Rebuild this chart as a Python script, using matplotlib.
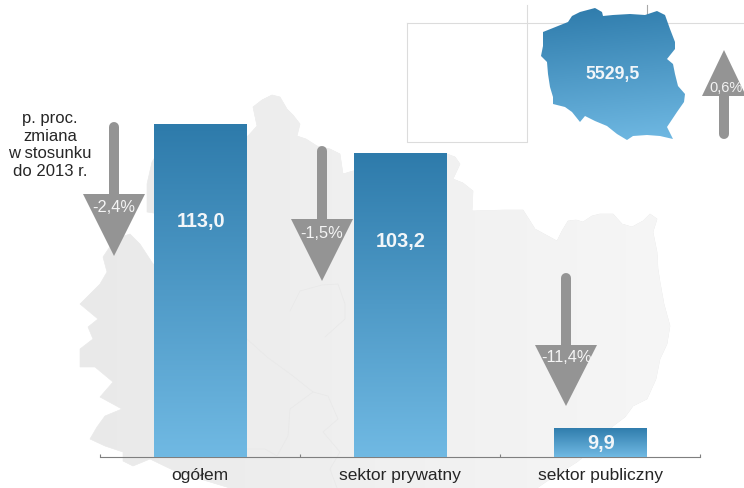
#!/usr/bin/env python
"""
Pracujacy wg sektorow: slupki z gradientem na tle mapy regionu, wstawka z mapa Polski
"""

# Imports ==================================
import matplotlib
matplotlib.use('Agg')
import matplotlib.pyplot as plt
import numpy as np
from matplotlib.colors import LinearSegmentedColormap
from matplotlib.patches import Polygon

plt.rcParams['font.family'] = ['Liberation Sans', 'DejaVu Sans']

# Data =====================================
categories = ['ogółem', 'sektor prywatny', 'sektor publiczny']
values = [113.0, 103.2, 9.9]
value_labels = ['113,0', '103,2', '9,9']
change_labels = ['-2,4%', '-1,5%', '-11,4%']
poland_value = '5529,5'
poland_change = '0,6%'
note = 'p. proc.\nzmiana\nw stosunku\ndo 2013 r.'

# Image Variables ==========================
W, H = 744, 489
my_dpi = 100
grey = '#949494'
blues = LinearSegmentedColormap.from_list('blues', ['#2e7bab', '#70b9e3'])
greys = LinearSegmentedColormap.from_list('greys', ['#e9e9e9', '#f0f0f0', '#f6f6f6'])

# Arrow geometry in pixels: shaft x, shaft end y, head base y, head half width, tip y
down_arrows = [(114, 123, 195, 31, 257), (322, 147, 220, 31, 282), (566, 274, 346, 31, 407)]
up_arrow = (724, 140, 97, 22, 51)
label_y = [222, 241, 444]
change_y = [208, 233, 358]

# Map outlines (pixels)
region_outline = [
    (272, 96), (280, 98), (287, 110), (293, 116), (300, 125), (297, 137), (306, 140), (317, 147),
    (330, 150), (340, 155), (343, 175), (353, 172), (447, 155), (455, 158), (460, 165), (453, 180),
    (463, 184), (473, 192), (472, 212), (505, 211), (523, 211), (530, 222), (535, 230), (546, 236),
    (557, 242), (562, 232), (568, 222), (576, 221), (583, 223), (592, 217), (600, 215), (613, 215),
    (622, 225), (632, 228), (643, 222), (650, 215), (657, 220), (653, 233), (657, 253), (658, 270),
    (660, 283), (664, 305), (670, 327), (667, 345), (660, 360), (656, 380), (647, 400), (633, 407),
    (625, 418), (613, 427), (595, 448), (577, 463), (550, 480), (537, 489), (230, 489), (210, 483),
    (177, 473), (150, 460), (133, 467), (123, 462), (123, 453), (105, 447), (90, 440), (97, 428),
    (105, 417), (122, 410), (100, 398), (113, 383), (95, 368), (80, 368), (80, 350), (93, 340),
    (88, 328), (98, 320), (80, 305), (92, 293), (100, 285), (107, 273), (103, 258), (115, 240),
    (130, 235), (140, 245), (153, 265), (160, 265), (160, 215), (147, 213), (147, 185), (152, 163),
    (160, 150), (248, 137), (257, 127), (253, 108), (262, 101),
]
region_lines = [
    [(247, 340), (267, 358), (293, 377), (313, 393), (328, 397), (338, 420), (323, 433), (340, 453), (330, 470), (337, 489)],
    [(313, 393), (290, 410), (288, 437), (277, 457), (265, 450), (247, 450)],
    [(290, 312), (300, 292), (322, 286), (338, 285), (345, 305), (345, 320), (325, 338)],
]
poland_outline = [
    (543, 33), (568, 23), (572, 17), (580, 13), (595, 9), (602, 13), (603, 17), (613, 16), (630, 15),
    (645, 16), (657, 12), (665, 16), (670, 30), (675, 43), (675, 50), (667, 60), (673, 65), (675, 75),
    (678, 87), (685, 95), (684, 103), (677, 113), (667, 128), (673, 140), (660, 137), (647, 136),
    (633, 137), (627, 141), (617, 135), (607, 127), (595, 122), (585, 117), (580, 123), (572, 113),
    (565, 108), (553, 105), (553, 98), (550, 88), (548, 75), (547, 63), (541, 57), (543, 47),
]


def gradient(axe, patch, extent, cmap, data):
    # Image clipped to a patch, used for all gradient fills
    im = axe.imshow(data, extent=extent, cmap=cmap, aspect='auto', vmin=0, vmax=1,
                    interpolation='bilinear', zorder=patch.get_zorder())
    im.set_clip_path(patch)


def arrow(axe, x, tail, base, half, tip):
    axe.plot([x, x], [tail + np.sign(base - tail) * 5, base], color=grey, lw=7.2,
             solid_capstyle='round', zorder=5)
    axe.add_patch(Polygon([(x - half, base), (x + half, base), (x, tip)], fc=grey, ec='none', zorder=5))


# Create figure
fig = plt.figure(figsize=(W / my_dpi, H / my_dpi), dpi=my_dpi)

# Background axes in pixel coordinates
bg = fig.add_axes([0, 0, 1, 1])
bg.set_axis_off()

region = Polygon(region_outline, closed=True, fc='none', ec='#e6e6e6', lw=0.4, zorder=1)
bg.add_patch(region)
gradient(bg, region, (70, 680, 489, 90), greys, np.linspace(0, 1, 200).reshape(1, -1))
for seg in region_lines:
    xs, ys = zip(*seg)
    bg.plot(xs, ys, color='#e8e8e8', lw=0.5, zorder=2)

# Inset frame lines
frame = '#dcdcdc'
bg.plot([407, 407, 527, 527], [24, 143, 143, 6], color=frame, lw=0.8, zorder=1)
bg.plot([407, W], [24, 24], color=frame, lw=0.8, zorder=1)
bg.plot([647, 647], [6, 15], color='#a8a8a8', lw=0.8, zorder=1)

# Poland inset
poland = Polygon(poland_outline, closed=True, fc='none', ec='none', zorder=3)
bg.add_patch(poland)
yy, xx = np.mgrid[0:1:100j, 0:1:100j]
gradient(bg, poland, (541, 685, 141, 9), blues, np.clip(yy * 0.9 + xx * 0.1, 0, 1))
bg.text(613, 75, poland_value, color='#f2f6f9', fontsize=12.7, fontweight='bold', ha='center', va='center', zorder=6)

bg.set_xlim(0, W)
bg.set_ylim(H, 0)

# Bars, on their own axes so the value scale does the work
ax = fig.add_axes([100 / W, (H - 458) / H, 600 / W, 333 / H])
ax.patch.set_alpha(0)
bars = ax.bar(range(len(values)), values, width=0.465, color='none', zorder=3)
for b in bars:
    gradient(ax, b, (b.get_x(), b.get_x() + b.get_width(), 0, b.get_height()), blues,
             np.linspace(0, 1, 200).reshape(-1, 1))
ax.set_xlim(-0.5, 2.5)
ax.set_ylim(0, values[0])
for s in ('top', 'left', 'right'):
    ax.spines[s].set_visible(False)
ax.spines['bottom'].set_color('#7f7f7f')
ax.spines['bottom'].set_linewidth(0.8)
ax.set_yticks([])
ax.set_xticks(range(len(categories)))
ax.set_xticklabels(categories, fontsize=12.5, color='#262626')
ax.tick_params(axis='x', which='major', length=0, pad=7)
ax.set_xticks([-0.5, 0.5, 1.5, 2.5], minor=True)
ax.tick_params(axis='x', which='minor', direction='in', length=2, width=0.8, color='#7f7f7f')

# Overlay axes for arrows and texts
top = fig.add_axes([0, 0, 1, 1])
top.set_axis_off()
top.patch.set_alpha(0)
for i, (x, tail, base, half, tip) in enumerate(down_arrows):
    arrow(top, x, tail, base, half, tip)
    top.text(x, change_y[i], change_labels[i], color='#f5f5f5', fontsize=11.8, ha='center', va='center', zorder=6)
    top.text(i * 200 + 201, label_y[i], value_labels[i], color='#f2f6f9', fontsize=14.3,
             fontweight='bold', ha='center', va='center', zorder=6)
arrow(top, *up_arrow)
top.text(up_arrow[0] + 2, 88, poland_change, color='#f2f2f2', fontsize=10.5, ha='center', va='center', zorder=6)
top.text(50, 145, note, color='#262626', fontsize=12, ha='center', va='center', linespacing=1.2, zorder=6)
top.set_xlim(0, W)
top.set_ylim(H, 0)

plt.savefig('out.png', dpi=my_dpi)
plt.close()
